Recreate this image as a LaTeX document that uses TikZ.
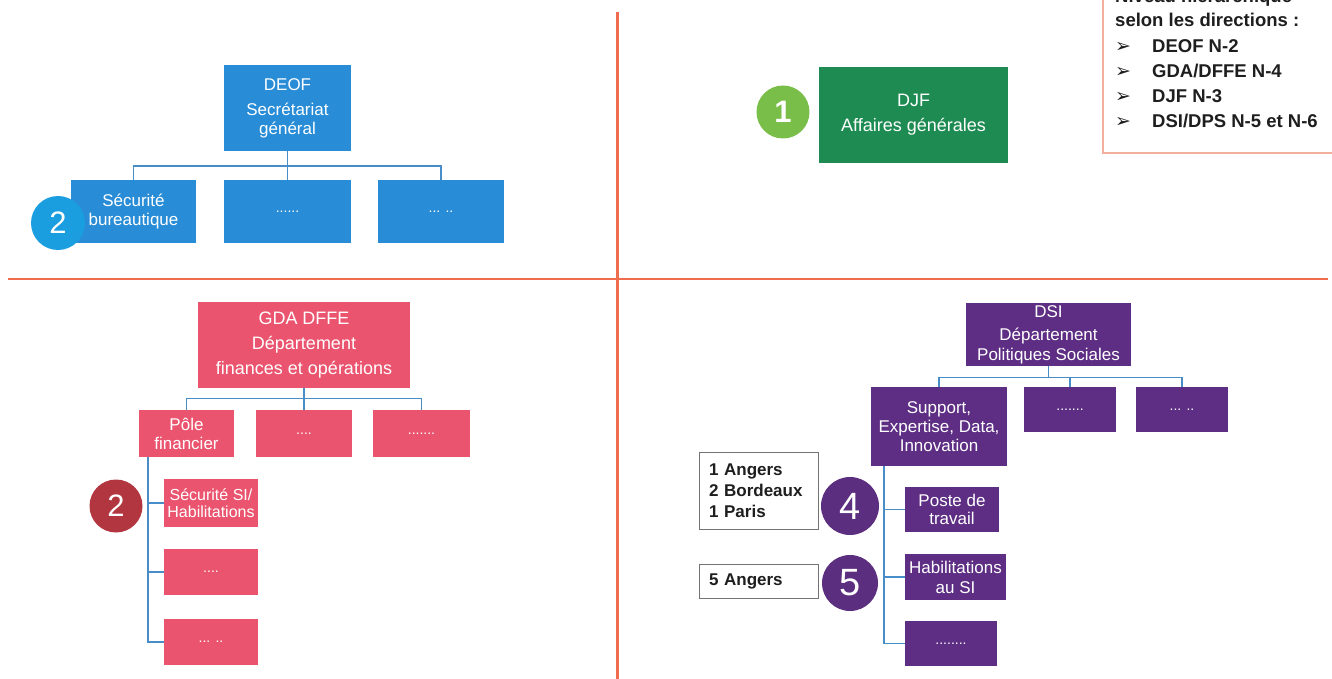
\documentclass[tikz,border=0pt]{standalone}
\usepackage{fontspec}
\setmainfont{Liberation Sans}
\newfontfamily\dejavu{DejaVu Sans}
\definecolor{cblue}{RGB}{40,140,214}
\definecolor{cbluebadge}{RGB}{27,158,224}
\definecolor{cgreen}{RGB}{30,140,82}
\definecolor{cgreenbadge}{RGB}{120,190,72}
\definecolor{cpink}{RGB}{234,84,110}
\definecolor{credbadge}{RGB}{178,54,64}
\definecolor{cpurple}{RGB}{94,46,132}
\definecolor{cpurplebadge}{RGB}{92,46,128}
\definecolor{cconn}{RGB}{72,140,200}
\definecolor{corange}{RGB}{240,108,78}
\definecolor{clegend}{RGB}{242,175,155}
\definecolor{ctext}{RGB}{30,30,30}
\begin{document}
\begin{tikzpicture}[x=1pt,y=-1pt,
  box/.style={draw=none, inner sep=1pt, align=center, text=white, font=\fontsize{17}{19}\selectfont},
  bluebox/.style={box, fill=cblue},
  greenbox/.style={box, fill=cgreen},
  pinkbox/.style={box, fill=cpink},
  purplebox/.style={box, fill=cpurple},
  dots/.style={font=\fontsize{14}{16}\selectfont},
  conn/.style={draw=cconn, line width=1.4pt},
  sepline/.style={draw=corange, line width=2.5pt},
  badge/.style={circle, inner sep=0pt, text=white, font=\fontsize{31}{31}\selectfont},
  bigbadge/.style={circle, inner sep=0pt, text=white, font=\fontsize{38}{38}\selectfont},
  sitebox/.style={draw=black!55, line width=1pt, fill=white, align=left, inner xsep=10pt, inner ysep=2pt, text=ctext, text width=99pt, font=\bfseries\fontsize{17}{21}\selectfont},
  legt/.style={anchor=base west, inner sep=0pt, text=ctext, font=\bfseries\fontsize{18.5}{22}\selectfont},
  legbul/.style={anchor=base west, inner sep=0pt, text=ctext, font=\dejavu\bfseries\fontsize{19}{20}\selectfont}
]
\useasboundingbox (0,0) rectangle (1332,679);
\clip (0,0) rectangle (1332,679);

% separators
\coordinate (vtop) at (617.5,12);
\coordinate (vbot) at (617.5,679);
\coordinate (hleft) at (8,279);
\coordinate (hright) at (1328,279);
\draw[sepline] (vtop) -- (vbot);
\draw[sepline] (hleft) -- (hright);

% legend box
\draw[draw=clegend, line width=1.5pt, fill=white] (1103,-20) rectangle (1345,153);
\node[legt] (l0) at (1115,3) {Niveau hiérarchique};
\node[legt] (l1) at (1115,27) {selon les directions :};
\node[legbul] (b1m) at (1115,53) {➢};
\node[legt] (l2) at (1152,53) {DEOF N-2};
\node[legbul] (b2m) at (1115,78) {➢};
\node[legt] (l3) at (1152,78) {GDA/DFFE N-4};
\node[legbul] (b3m) at (1115,103) {➢};
\node[legt] (l4) at (1152,103) {DJF N-3};
\node[legbul] (b4m) at (1115,128) {➢};
\node[legt] (l5) at (1152,128) {DSI/DPS N-5 et N-6};

% ---- DEOF (blue)
\node[bluebox, minimum width=127pt, minimum height=86pt] (deof) at (287.5,108) {DEOF\\[6pt]Secrétariat\\général};
\node[bluebox, minimum width=125pt, minimum height=63pt] (bb1) at (133.5,211.5) {Sécurité\\bureautique};
\node[bluebox, dots, minimum width=127pt, minimum height=63pt] (bb2) at (287.5,211.5) {......};
\node[bluebox, dots, minimum width=126pt, minimum height=63pt] (bb3) at (441,211.5) {... ..};
\draw[conn] (deof.south) -- ++(0,15) -| (bb1.north);
\draw[conn] (deof.south) -- ++(0,15) -| (bb3.north);
\draw[conn] (deof.south) -- (bb2.north);
\node[badge, fill=cbluebadge, minimum size=54pt] (n2a) at (58,223) {2};

% ---- DJF (green)
\node[greenbox, font=\fontsize{18}{21}\selectfont, minimum width=189pt, minimum height=96pt] (djf) at (913.5,115) {DJF\\[4pt]Affaires générales};
\node[badge, fill=cgreenbadge, minimum size=53pt, font=\bfseries\fontsize{31}{31}\selectfont] (n1) at (783,112) {1};

% ---- GDA DFFE (pink)
\node[pinkbox, font=\fontsize{18}{25}\selectfont, minimum width=212pt, minimum height=86pt] (gda) at (304,345) {GDA DFFE\\Département\\finances et opérations};
\node[pinkbox, font=\fontsize{17}{19}\selectfont, minimum width=95pt, minimum height=47pt] (pole) at (186.5,433.5) {Pôle\\financier};
\node[pinkbox, dots, minimum width=96pt, minimum height=47pt] (g2) at (304,433.5) {....};
\node[pinkbox, dots, minimum width=97pt, minimum height=47pt] (g3) at (421.5,433.5) {.......};
\node[pinkbox, font=\fontsize{16}{17}\selectfont, minimum width=94pt, minimum height=48pt] (s1) at (211,503) {Sécurité SI/\\Habilitations};
\node[pinkbox, dots, minimum width=94pt, minimum height=46pt] (s2) at (211,572) {....};
\node[pinkbox, dots, minimum width=94pt, minimum height=46pt] (s3) at (211,642) {... ..};
\draw[conn] (gda.south) -- ++(0,10) -| (pole.north);
\draw[conn] (gda.south) -- ++(0,10) -| (g3.north);
\draw[conn] (gda.south) -- (g2.north);
\draw[conn] ([xshift=-38.5pt]pole.south) |- (s1.west);
\draw[conn] ([xshift=-38.5pt]pole.south) |- (s2.west);
\draw[conn] ([xshift=-38.5pt]pole.south) |- (s3.west);
\node[badge, fill=credbadge, minimum size=53pt] (n2b) at (116,506) {2};

% ---- DSI (purple)
\node[purplebox, font=\fontsize{17}{20}\selectfont, minimum width=165pt, minimum height=63pt] (dsi) at (1048.5,334.5) {DSI\\[3pt]Département\\Politiques Sociales};
\node[purplebox, font=\fontsize{17}{19}\selectfont, minimum width=136pt, minimum height=79pt] (sup) at (939,426.5) {Support,\\Expertise, Data,\\Innovation};
\node[purplebox, dots, minimum width=92pt, minimum height=45pt] (d2) at (1070,409.5) {.......};
\node[purplebox, dots, minimum width=92pt, minimum height=45pt] (d3) at (1182,409.5) {... ..};
\node[purplebox, font=\fontsize{17}{18}\selectfont, minimum width=94pt, minimum height=45pt] (p1) at (952,509.5) {Poste de\\travail};
\node[purplebox, font=\fontsize{17}{20}\selectfont, minimum width=101pt, minimum height=46pt] (p2) at (955.5,577) {Habilitations\\au SI};
\node[purplebox, dots, minimum width=92pt, minimum height=45pt] (p3) at (951,643.5) {........};
\draw[conn] (dsi.south) -- ++(0,11) -| (sup.north);
\draw[conn] (dsi.south) -- ++(0,11) -| (d2.north);
\draw[conn] (dsi.south) -- ++(0,11) -| (d3.north);
\draw[conn] ([xshift=-55pt]sup.south) |- (p1.west);
\draw[conn] ([xshift=-55pt]sup.south) |- (p2.west);
\draw[conn] ([xshift=-55pt]sup.south) |- (p3.west);
\node[bigbadge, fill=cpurplebadge, minimum size=58pt] (n4) at (850,506) {4};
\node[bigbadge, fill=cpurplebadge, minimum size=56pt] (n5) at (850,583) {5};
\node[sitebox, minimum height=77pt] (site4) at (758.5,490.5) {1 Angers\\2 Bordeaux\\1 Paris};
\node[sitebox, minimum height=34pt] (site5) at (758.5,581) {5 Angers};
\end{tikzpicture}
\end{document}
